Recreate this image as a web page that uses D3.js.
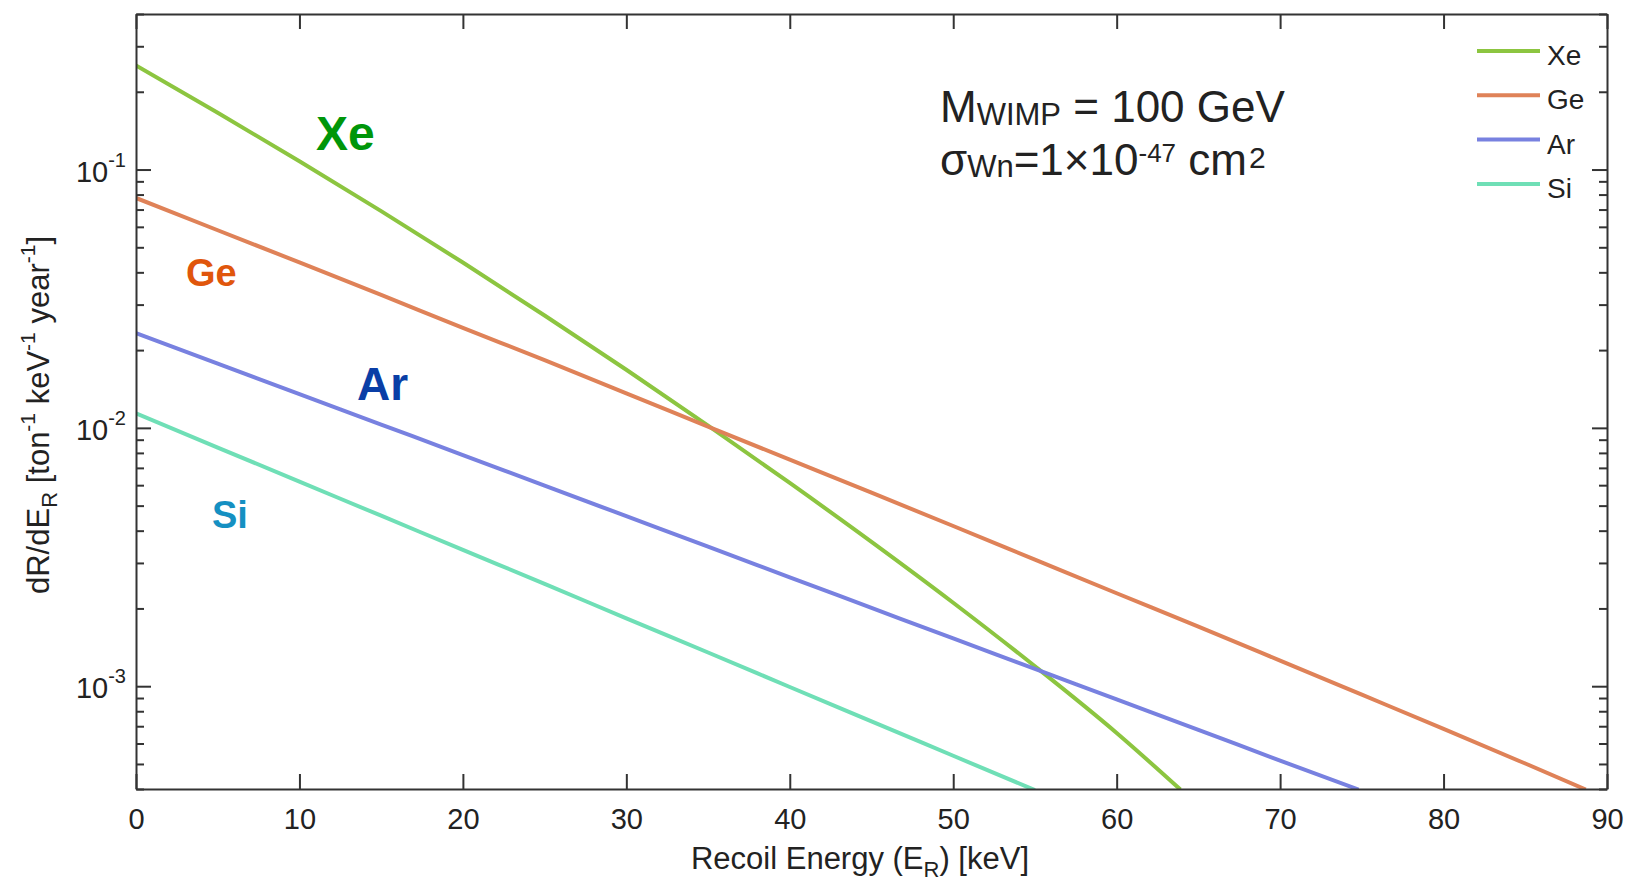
<!DOCTYPE html>
<html>
<head>
<meta charset="utf-8">
<script src="https://cdn.jsdelivr.net/npm/d3@7"></script>
<style>
  body { margin: 0; background: #fff; }
  svg { display: block; font-family: "Liberation Sans", Arial, Helvetica, sans-serif; }
  .axis path, .axis line { stroke: #333; stroke-width: 2; }
</style>
</head>
<body>
<div id="chart"></div>
<script>
// recoil energy (keV) where each curve was read, and the rate there
const xeEnergy = [0, 5, 10, 15, 20, 25, 30, 35, 40, 45, 50, 55, 60, 63.9];
const xeRate = [0.2529, 0.166, 0.1076, 0.069, 0.04365, 0.02723, 0.01679, 0.01021, 0.00612, 0.00362, 0.002104, 0.001194, 0.000659, 0.000398];

const geEnergy = [0, 5, 10, 15, 20, 25, 30, 35, 40, 45, 50, 55, 60, 65, 70, 75, 80, 85, 88.7];
const geRate = [0.0776, 0.0582, 0.0437, 0.0327, 0.0244, 0.01828, 0.01361, 0.01012, 0.00753, 0.00561, 0.00417, 0.00309, 0.00229, 0.0017, 0.001256, 0.000927, 0.000684, 0.000502, 0.000398];

const arEnergy = [0, 5, 10, 15, 20, 25, 30, 35, 40, 45, 50, 55, 60, 65, 70, 74.8];
const arRate = [0.02328, 0.01774, 0.01352, 0.0103, 0.00785, 0.00597, 0.00455, 0.00347, 0.00264, 0.00201, 0.00153, 0.001167, 0.000889, 0.000678, 0.000515, 0.000398];

const siEnergy = [0, 5, 10, 15, 20, 25, 30, 35, 40, 45, 50, 55];
const siRate = [0.01138, 0.00839, 0.00619, 0.00457, 0.00337, 0.00249, 0.00183, 0.00135, 0.000993, 0.000731, 0.000538, 0.000396];

const targets = ["Xe", "Ge", "Ar", "Si"];
const xTicks = [0, 10, 20, 30, 40, 50, 60, 70, 80, 90];
const yMajor = [1e-3, 1e-2, 1e-1];
const yExponents = ["-3", "-2", "-1"];

const series = [
  { name: "Xe", energy: xeEnergy, rate: xeRate, line: "#8cc540", label: "#00960a", size: 48, lx: 316, ly: 150 },
  { name: "Ge", energy: geEnergy, rate: geRate, line: "#df8258", label: "#e0560c", size: 38, lx: 186, ly: 286 },
  { name: "Ar", energy: arEnergy, rate: arRate, line: "#7881e0", label: "#0a3ea6", size: 46, lx: 357, ly: 400 },
  { name: "Si", energy: siEnergy, rate: siRate, line: "#6fdfb6", label: "#1590c2", size: 38, lx: 212, ly: 528 },
];

const width = 1627;
const height = 882;
const margin = { top: 14, right: 20, bottom: 93, left: 136 };

const svg = d3.select("#chart")
  .append("svg")
  .attr("width", width)
  .attr("height", height)
  .attr("viewBox", [0, 0, width, height]);

const x = d3.scaleLinear()
  .domain([0, 90])
  .range([margin.left, width - margin.right]);

const y = d3.scaleLog()
  .domain([4e-4, 0.4])
  .range([height - margin.bottom, margin.top]);

// minor log ticks 2..9 in each decade
const yMinor = y.ticks().filter((v) => !yMajor.some((m) => Math.abs(m - v) < 1e-12));

svg.append("clipPath")
  .attr("id", "plot-clip")
  .append("rect")
  .attr("x", margin.left)
  .attr("y", margin.top)
  .attr("width", width - margin.left - margin.right)
  .attr("height", height - margin.top - margin.bottom);

// curves
const line = d3.line()
  .x((d) => x(d[0]))
  .y((d) => y(d[1]))
  .curve(d3.curveMonotoneX);

svg.append("g")
  .attr("clip-path", "url(#plot-clip)")
  .selectAll("path")
  .data(series)
  .join("path")
  .attr("fill", "none")
  .attr("stroke", (d) => d.line)
  .attr("stroke-width", 4)
  .attr("d", (d) => line(d.energy.map((e, i) => [e, d.rate[i]])));

// axes, ticks pointing inwards
svg.append("g")
  .attr("class", "axis")
  .attr("transform", `translate(0,${height - margin.bottom})`)
  .call(d3.axisBottom(x).tickValues(xTicks).tickSize(-15).tickSizeOuter(0).tickPadding(19))
  .call((g) => g.selectAll("text").attr("font-size", 29).attr("fill", "#222"));

svg.append("g")
  .attr("class", "axis")
  .attr("transform", `translate(0,${margin.top})`)
  .call(d3.axisTop(x).tickValues(xTicks).tickSize(-15).tickSizeOuter(0).tickFormat(""));

const yAxes = [
  { axis: d3.axisLeft, pos: margin.left },
  { axis: d3.axisRight, pos: width - margin.right },
];
yAxes.forEach(({ axis, pos }) => {
  svg.append("g")
    .attr("class", "axis")
    .attr("transform", `translate(${pos},0)`)
    .call(axis(y).tickValues(yMajor).tickSize(-15).tickSizeOuter(0).tickFormat(""));
  svg.append("g")
    .attr("class", "axis")
    .attr("transform", `translate(${pos},0)`)
    .call(axis(y).tickValues(yMinor).tickSize(-8).tickSizeOuter(0).tickFormat(""))
    .call((g) => g.select(".domain").remove());
});

// y tick labels as 10 with a superscript exponent
svg.append("g")
  .selectAll("text")
  .data(yMajor)
  .join("text")
  .attr("x", margin.left - 10)
  .attr("y", (d) => y(d) + 12)
  .attr("text-anchor", "end")
  .attr("fill", "#222")
  .call((t) => t.append("tspan").attr("font-size", 29).text("10"))
  .call((t) => t.append("tspan").attr("font-size", 20).attr("dy", -15).text((d, i) => yExponents[i]));

// axis titles
const xTitle = svg.append("text")
  .attr("x", 860)
  .attr("y", 869)
  .attr("text-anchor", "middle")
  .attr("font-size", 31)
  .attr("fill", "#222");
xTitle.append("tspan").text("Recoil Energy (E");
xTitle.append("tspan").attr("font-size", 22).attr("dy", 8).text("R");
xTitle.append("tspan").attr("dy", -8).text(") [keV]");

const yTitle = svg.append("text")
  .attr("transform", "translate(49,415) rotate(-90)")
  .attr("text-anchor", "middle")
  .attr("font-size", 31)
  .attr("fill", "#222");
yTitle.append("tspan").text("dR/dE");
yTitle.append("tspan").attr("font-size", 22).attr("dy", 8).text("R");
yTitle.append("tspan").attr("dy", -8).text(" [ton");
yTitle.append("tspan").attr("font-size", 21).attr("dy", -14).text("-1");
yTitle.append("tspan").attr("dy", 14).text(" keV");
yTitle.append("tspan").attr("font-size", 21).attr("dy", -14).text("-1");
yTitle.append("tspan").attr("dy", 14).text(" year");
yTitle.append("tspan").attr("font-size", 21).attr("dy", -14).text("-1");
yTitle.append("tspan").attr("dy", 14).text("]");

// big coloured labels next to the curves
svg.append("g")
  .selectAll("text")
  .data(series)
  .join("text")
  .attr("x", (d) => d.lx)
  .attr("y", (d) => d.ly)
  .attr("font-size", (d) => d.size)
  .attr("font-weight", "bold")
  .attr("fill", (d) => d.label)
  .text((d) => d.name);

// legend
const legend = svg.append("g")
  .selectAll("g")
  .data(series)
  .join("g")
  .attr("transform", (d, i) => `translate(1477,${51 + i * 44.3})`);
legend.append("line")
  .attr("x2", 63)
  .attr("stroke", (d) => d.line)
  .attr("stroke-width", 4);
legend.append("text")
  .attr("x", 70)
  .attr("y", 14)
  .attr("font-size", 28)
  .attr("fill", "#222")
  .text((d, i) => targets[i]);

// model parameters
const note1 = svg.append("text").attr("x", 940).attr("y", 122).attr("font-size", 44).attr("fill", "#222");
note1.append("tspan").text("M");
note1.append("tspan").attr("font-size", 31).attr("dy", 3).text("WIMP");
note1.append("tspan").attr("dy", -3).text(" = 100 GeV");

const note2 = svg.append("text").attr("x", 940).attr("y", 175).attr("font-size", 44).attr("fill", "#222");
note2.append("tspan").text("σ");
note2.append("tspan").attr("font-size", 31).attr("dy", 2).text("Wn");
note2.append("tspan").attr("dy", -2).text("=1×10");
note2.append("tspan").attr("font-size", 26).attr("dy", -13).text("-47");
note2.append("tspan").attr("dy", 13).text(" cm");
note2.append("tspan").attr("font-size", 30).attr("dy", -7).attr("dx", 2).text("2");
</script>
</body>
</html>
